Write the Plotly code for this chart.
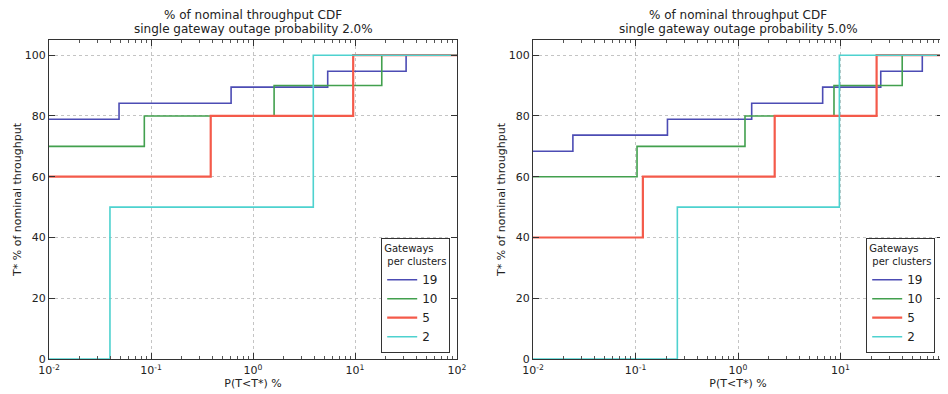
import plotly.graph_objects as go

# ---- data ----
series_names = ["19", "10", "5", "2"]
series_colors = ["#4c4cb4", "#42a04e", "#f45a4a", "#4ed2cf"]

# left panel: outage probability 2.0%
left_steps = {
    "19": [0.0486, 0.61, 5.4, 31.7],
    "10": [0.086, 1.61, 18.3],
    "5": [0.385, 9.6],
    "2": [0.0396, 3.9],
}
left_levels = {
    "19": [78.9, 84.2, 89.5, 94.7, 100],
    "10": [70, 80, 90, 100],
    "5": [60, 80, 100],
    "2": [0, 50, 100],
}
# right panel: outage probability 5.0%
right_steps = {
    "19": [0.0245, 0.205, 1.36, 6.7, 24.7, 62.8],
    "10": [0.1035, 1.17, 8.64, 40.0],
    "5": [0.118, 2.28, 22.5],
    "2": [0.256, 9.75],
}
right_levels = {
    "19": [68.4, 73.7, 78.9, 84.2, 89.5, 94.7, 100],
    "10": [60, 70, 80, 90, 100],
    "5": [40, 60, 80, 100],
    "2": [0, 50, 100],
}
x_min, x_max = 0.01, 100
x_tickvals = [0.01, 0.1, 1, 10, 100]
x_ticktext = ["10<sup>-2</sup>", "10<sup>-1</sup>", "10<sup>0</sup>", "10<sup>1</sup>", "10<sup>2</sup>"]
y_tickvals = [0, 20, 40, 60, 80, 100]
minor_mult = [2, 3, 4, 5, 6, 7, 8, 9]

title_line1 = ["% of nominal throughput CDF", "% of nominal throughput CDF"]
title_line2 = ["single gateway outage probability 2.0%", "single gateway outage probability 5.0%"]

FONT = "DejaVu Sans"
# page body has an 8px margin: work in picture pixels, shifted by OFF
OFF = 8
W, H = 948 - OFF, 394 - OFF


def px(x):
    return (x - OFF) / W


def py(y):
    return 1 - (y - OFF) / H


fig = go.Figure()

panels = [("x", "y", left_steps, left_levels, "legend"),
          ("x2", "y2", right_steps, right_levels, "legend2")]
for xa, ya, steps, levels, leg in panels:
    for name, col in zip(series_names, series_colors):
        xs = [x_min] + steps[name] + [x_max]
        ys = levels[name] + [levels[name][-1]]
        fig.add_trace(go.Scatter(
            x=xs, y=ys, mode="lines", line_shape="hv",
            line=dict(color=col, width=2.2 if name == "5" else 1.6),
            name=name, xaxis=xa, yaxis=ya, legend=leg, showlegend=True,
        ))

minor_vals = [m * d for d in x_tickvals[:-1] for m in minor_mult]

axis_common = dict(
    showline=True, linecolor="#333333", linewidth=1.2, mirror="ticks",
    ticks="inside", ticklen=6, tickcolor="#333333", automargin=False,
    showgrid=True, gridcolor="#c4c4c4", griddash="dot", gridwidth=1,
    zeroline=False, tickfont=dict(family=FONT, size=11, color="#222222"),
)
xaxis_common = dict(
    axis_common, type="log", range=[-2, 2], tickvals=x_tickvals, ticktext=x_ticktext,
    minor=dict(ticks="inside", ticklen=3, tickcolor="#555555", showgrid=False, tickvals=minor_vals),
    ticklabelstandoff=1,
    title=dict(text="P(T<T*) %", font=dict(family=FONT, size=11, color="#222222"), standoff=3),
)
yaxis_common = dict(
    axis_common, range=[0, 105], tickvals=y_tickvals,
    title=dict(text="T* % of nominal throughput", font=dict(family=FONT, size=11, color="#222222"), standoff=0),
)

fig.update_layout(
    width=W, height=H,
    margin=dict(l=0, r=0, t=0, b=0),
    paper_bgcolor="white", plot_bgcolor="white",
    font=dict(family=FONT, color="#222222"),
    xaxis=dict(xaxis_common, domain=[px(49), px(457)], anchor="y"),
    yaxis=dict(yaxis_common, domain=[py(359), py(40)], anchor="x"),
    xaxis2=dict(xaxis_common, domain=[px(533), px(943)], anchor="y2"),
    yaxis2=dict(yaxis_common, domain=[py(359), py(40)], anchor="x2"),
)

legend_common = dict(
    bgcolor="white", bordercolor="#333333", borderwidth=1.2,
    font=dict(family=FONT, size=12, color="#222222"),
    title=dict(text="Gateways<br> per clusters", font=dict(family=FONT, size=10, color="#222222")),
    xanchor="right", yanchor="bottom", tracegroupgap=0, itemwidth=30,
)
fig.update_layout(
    legend=dict(legend_common, x=px(450), y=py(353)),
    legend2=dict(legend_common, x=px(935), y=py(353)),
)

for i in range(2):
    dom = [px(49), px(457)] if i == 0 else [px(533), px(943)]
    for txt, yc in ((title_line1[i], 15.5), (title_line2[i], 29.5)):
        fig.add_annotation(
            text=txt, xref="paper", yref="paper", x=(dom[0] + dom[1]) / 2, y=py(yc),
            xanchor="center", yanchor="middle", showarrow=False, borderpad=0,
            font=dict(family=FONT, size=12, color="#222222"),
        )

fig.write_html("out.html")
